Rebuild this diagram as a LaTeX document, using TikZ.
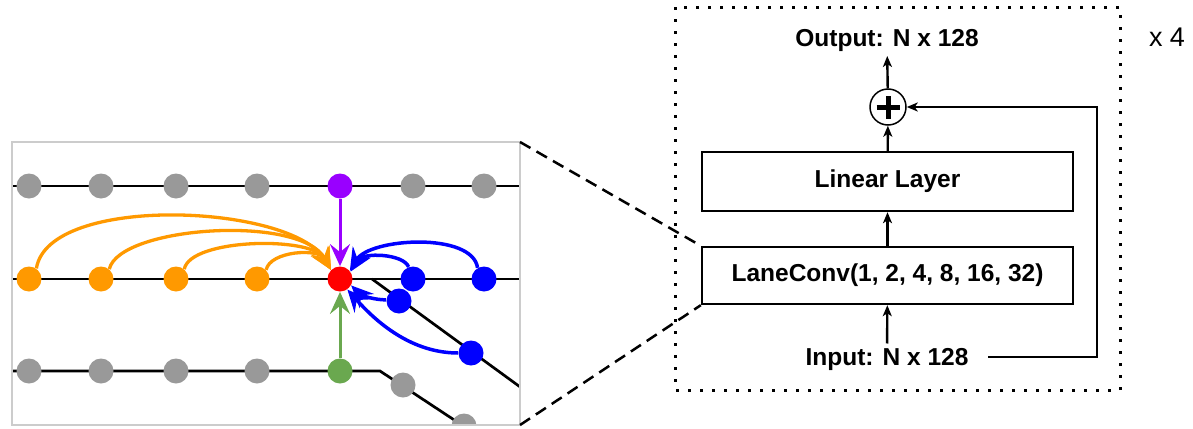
\documentclass[tikz,border=0pt]{standalone}
\usepackage{fontspec}
\setmainfont{Liberation Sans}
\usetikzlibrary{arrows.meta}
\definecolor{lanegray}{HTML}{999999}
\definecolor{framegray}{HTML}{CCCCCC}
\definecolor{nborange}{HTML}{FF9900}
\definecolor{nbpurple}{HTML}{9900FF}
\definecolor{nbred}{HTML}{FF0000}
\definecolor{nbblue}{HTML}{0000FF}
\definecolor{nbgreen}{HTML}{6AA84F}
\begin{document}
\begin{tikzpicture}[x=0.5pt,y=-0.5pt,
  lanept/.style={circle,inner sep=0pt,minimum size=12.5pt,fill=#1},
  laneline/.style={line width=1.35pt,black},
  bigtip/.style={-{Stealth[length=11pt,width=10pt,inset=4pt]}},
  oarc/.style={nborange,line width=1.65pt,bigtip},
  barc/.style={nbblue,line width=1.75pt,bigtip},
  blockbox/.style={draw,line width=1.2pt,minimum width=185.5pt,font=\fontsize{12.25pt}{14pt}\selectfont\bfseries},
  blocktxt/.style={inner sep=2pt,font=\fontsize{12.25pt}{14pt}\selectfont\bfseries},
  flow/.style={line width=1.2pt,-{Stealth[length=5.5pt,width=4.5pt,inset=1.5pt]}},
  zoomline/.style={line width=1.25pt,dash pattern=on 6pt off 3.5pt},
  repeatbox/.style={line width=1.5pt,dash pattern=on 1.5pt off 4.5pt}
]
\useasboundingbox (0,0) rectangle (1193,428);

% ---------------- lane graph ----------------
\coordinate (fr-nw) at (12,142);
\coordinate (fr-ne) at (520,142);
\coordinate (fr-se) at (520,425);

\begin{scope}
  \clip (12,142) rectangle (520,425);
  % lane centre lines
  \draw[laneline] (0,186) -- (540,186);
  \draw[laneline] (0,279) -- (540,279);
  \draw[laneline] (372,279) -- (560,416);
  \draw[laneline] (0,371) -- (380,371) -- (480,437);
  % upper lane
  \foreach \x [count=\i] in {29,101,176,257} \node[lanept=lanegray] (u\i) at (\x,186) {};
  \node[lanept=nbpurple] (pre) at (340,186) {};
  \node[lanept=lanegray] (u5) at (413,186) {};
  \node[lanept=lanegray] (u6) at (484,186) {};
  % lower lane
  \foreach \x [count=\i] in {29,101,176,257} \node[lanept=lanegray] (d\i) at (\x,371) {};
  \node[lanept=nbgreen] (suc) at (340,371) {};
  \node[lanept=lanegray] (d5) at (403,385) {};
  \node[lanept=lanegray] (d6) at (464,426) {};
\end{scope}

% centre lane
\node[lanept=nborange] (o1) at (29,279) {};
\node[lanept=nborange] (o2) at (101,279) {};
\node[lanept=nborange] (o3) at (176,279) {};
\node[lanept=nborange] (o4) at (257,279) {};
\node[lanept=nbred] (ctr) at (340,279) {};
\node[lanept=nbblue] (b1) at (413,279) {};
\node[lanept=nbblue] (b2) at (484,279) {};
\node[lanept=nbblue] (b3) at (399,301) {};
\node[lanept=nbblue] (b4) at (471,353) {};

% dilated predecessor connections
\draw[oarc] (o1.55) .. controls +(12,-75) and +(-40,-66) .. (ctr.135);
\draw[oarc] (o2.50) .. controls +(10,-43) and +(-30,-56) .. (ctr.135);
\draw[oarc] (o3.50) .. controls +(6,-31) and +(-18,-34) .. (ctr.135);
\draw[oarc] (o4.45) .. controls +(4,-19) and +(-12,-22) .. (ctr.135);

% successor connections
\draw[barc] (b1.110) .. controls +(-5,-13) and +(12,-20) .. (ctr.35);
\draw[barc] (b2.120) .. controls +(-5,-36) and +(20,-33) .. (ctr.40);
\draw[barc] (b3.175) .. controls +(-12,0) and +(10,10) .. (ctr.-30);
\draw[barc] (b4.180) .. controls +(-50,0) and +(25,28) .. (ctr.-55);

% left / right neighbours
\draw[nbpurple,line width=1.5pt,bigtip] (pre) -- (ctr);
\draw[nbgreen,line width=1.5pt,bigtip] (suc) -- (ctr);

% frame
\draw[framegray,line width=1pt] (fr-nw) rectangle (fr-se);

% ---------------- block ----------------
\draw[repeatbox] (675,7) rectangle (1120,390);
\node[anchor=base,font=\fontsize{13.5pt}{16pt}\selectfont] (rep) at (1167,46.5) {x 4};

\node[blocktxt,anchor=base] (out) at (887,46.5) {Output: N x 128};
\node[draw,circle,line width=0.75pt,minimum size=18pt,inner sep=0pt] (sum) at (888,107) {};
\draw[line width=2.5pt] ([xshift=-5.75pt]sum.center) -- ([xshift=5.75pt]sum.center)
                        ([yshift=-5.75pt]sum.center) -- ([yshift=5.75pt]sum.center);
\node[blockbox,minimum height=29.5pt] (lin) at (887.5,181.5) {Linear Layer};
\node[blockbox,minimum height=28.5pt] (lconv) at (887.5,275.5) {LaneConv(1, 2, 4, 8, 16, 32)};
\node[blocktxt,anchor=base] (inp) at (887,365) {Input: N x 128};

\draw[flow] (inp) -- (lconv);
\draw[flow] (lconv) -- (lin);
\draw[flow] (lin) -- (sum);
\draw[flow] (sum) -- (out);
\coordinate (skipa) at (988,357);
\coordinate (skipb) at (1097,357);
\draw[flow] (skipa) -- (skipb) |- (sum);

% zoom guides
\draw[zoomline] (fr-ne) -- (lconv.north west);
\draw[zoomline] (fr-se) -- (lconv.south west);
\end{tikzpicture}
\end{document}
